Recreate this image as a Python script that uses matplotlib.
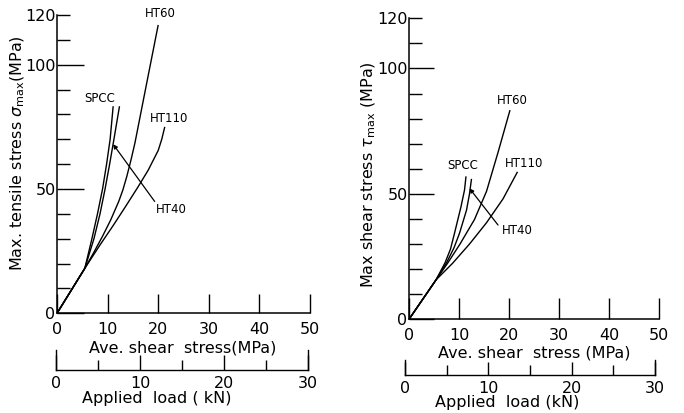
import matplotlib
matplotlib.use("Agg")
import matplotlib.pyplot as plt
from matplotlib.ticker import FixedLocator

plt.rcParams["font.family"] = ["DejaVu Sans"]
plt.rcParams["mathtext.fontset"] = "dejavusans"

# ---- tensile stress panel: (ave. shear stress MPa, max tensile stress MPa)
ten_spcc_x = [0, 5.5, 6.9, 8.0, 9.0, 9.8, 10.5, 11.1]
ten_spcc_y = [0, 18.1, 30.0, 40.0, 50.0, 60.0, 70.0, 83.3]
ten_ht40_x = [0, 5.5, 7.3, 8.5, 9.5, 10.4, 11.25, 12.35]
ten_ht40_y = [0, 18.1, 30.0, 40.0, 50.0, 60.0, 70.0, 83.3]
ten_ht60_x = [0, 5.5, 7.2, 9.0, 10.6, 12.2, 13.0, 13.8, 14.6, 15.4, 16.8, 18.3, 20.0]
ten_ht60_y = [0, 18.1, 24.2, 31.0, 37.5, 45.0, 49.5, 55.1, 61.5, 68.5, 83.0, 98.5, 116.0]
ten_ht110_x = [0, 5.5, 8.5, 11.0, 13.5, 16.0, 18.0, 20.0, 20.7, 21.3]
ten_ht110_y = [0, 18.1, 27.5, 35.0, 42.8, 50.8, 57.5, 65.5, 70.0, 75.0]

# ---- shear stress panel: (ave. shear stress MPa, max shear stress MPa)
sh_spcc_x = [0, 5.4, 7.2, 8.3, 9.1, 10.4, 11.1, 11.4]
sh_spcc_y = [0, 15.7, 22.5, 28.0, 34.3, 44.9, 51.5, 57.0]
sh_ht40_x = [0, 5.4, 7.5, 9.0, 10.1, 11.5, 12.1, 12.5]
sh_ht40_y = [0, 15.7, 22.5, 28.5, 34.3, 43.5, 50.0, 56.0]
sh_ht60_x = [0, 5.4, 7.7, 10.2, 13.1, 15.5, 17.8, 20.2]
sh_ht60_y = [0, 15.7, 22.3, 30.0, 39.8, 51.0, 66.5, 83.4]
sh_ht110_x = [0, 5.4, 8.7, 12.1, 15.5, 18.8, 21.7]
sh_ht110_y = [0, 15.7, 22.3, 30.0, 38.5, 48.0, 58.8]

stress_ticks = [0, 10, 20, 30, 40, 50]
load_major = [0, 10, 20, 30]
load_minor = [5, 15, 25]

LW = 1.0
PT = 0.72  # points per pixel at 100 dpi
fig = plt.figure(figsize=(6.84, 4.13), dpi=100)
W, H = 684.0, 413.0


def rect(x0, y0, x1, y1):
    return [x0 / W, (H - y0) / H, (x1 - x0) / W, (y0 - y1) / H]


def stress_axes(r, ylabel, ylab_xy, major_px, minor_px, xtick_px):
    ax = fig.add_axes(r)
    ax.set_xlim(0, 50)
    ax.set_ylim(0, 120)
    for s in ("top", "right"):
        ax.spines[s].set_visible(False)
    for s in ("left", "bottom"):
        ax.spines[s].set_linewidth(1.1)
    ax.xaxis.set_major_locator(FixedLocator(stress_ticks))
    ax.yaxis.set_major_locator(FixedLocator([0, 50, 100, 120]))
    ax.yaxis.set_minor_locator(FixedLocator([10, 20, 30, 40, 60, 70, 80, 90, 110]))
    ax.tick_params(axis="x", direction="in", length=xtick_px * PT, width=1.0,
                   labelsize=11.5, pad=6)
    ax.tick_params(axis="y", which="major", direction="in",
                   length=major_px * PT, width=1.0, labelsize=11.5, pad=1)
    ax.tick_params(axis="y", which="minor", direction="in",
                   length=minor_px * PT, width=1.0)
    ax.yaxis.get_major_ticks()[3].tick1line.set_markersize(minor_px * PT)
    fig.text(ylab_xy[0] / W, 1 - ylab_xy[1] / H, ylabel, rotation=90,
             ha="center", va="center", fontsize=11.5)
    return ax


def load_axes(r, major_px, minor_px):
    ax = fig.add_axes(r)
    ax.patch.set_alpha(0)
    ax.set_xlim(0, 30)
    ax.set_ylim(0, 1)
    ax.spines["top"].set_visible(False)
    for s in ("left", "right", "bottom"):
        ax.spines[s].set_linewidth(1.0)
    ax.set_yticks([])
    ax.xaxis.set_major_locator(FixedLocator(load_major))
    ax.xaxis.set_minor_locator(FixedLocator(load_minor))
    ax.tick_params(axis="x", which="major", direction="in",
                   length=major_px * PT, width=1.0, labelsize=11.5, pad=4)
    ax.tick_params(axis="x", which="minor", direction="in",
                   length=minor_px * PT, width=1.0)
    return ax


def draw_curves(ax, curves):
    for xs, ys in curves:
        ax.plot(xs, ys, color="black", lw=LW, solid_joinstyle="round",
                solid_capstyle="butt")


fs_lab = 8.5

# ---------------- left panel ----------------
axL = stress_axes(rect(57, 313.3, 310, 15),
                  r"Max. tensile stress $\sigma_{\rm max}$(MPa)",
                  (18, 153), 27, 13, 19)
draw_curves(axL, [(ten_spcc_x, ten_spcc_y), (ten_ht40_x, ten_ht40_y),
                  (ten_ht60_x, ten_ht60_y), (ten_ht110_x, ten_ht110_y)])
axL.text(20.5, 120.5, "HT60", ha="center", va="center", fontsize=fs_lab)
axL.text(8.4, 86.3, "SPCC", ha="center", va="center", fontsize=fs_lab)
axL.text(22.2, 78.3, "HT110", ha="center", va="center", fontsize=fs_lab)
axL.text(19.6, 41.9, "HT40", ha="left", va="center", fontsize=fs_lab)
axL.annotate("", xy=(11.1, 68.0), xytext=(19.3, 45),
             arrowprops=dict(arrowstyle="-|>", lw=0.9, color="black",
                             mutation_scale=6, shrinkA=0, shrinkB=0))
fig.text(183 / W, 1 - 348 / H, "Ave. shear  stress(MPa)", ha="center",
         va="center", fontsize=11.5)
load_axes(rect(56, 370, 308, 350), 15, 10)
fig.text(157 / W, 1 - 398 / H, "Applied  load ( kN)", ha="center",
         va="center", fontsize=11.5)

# ---------------- right panel ----------------
axR = stress_axes(rect(409, 319.3, 659, 18.3),
                  r"Max shear stress $\tau_{\rm max}$ (MPa)",
                  (369, 175), 25, 13, 21)
draw_curves(axR, [(sh_spcc_x, sh_spcc_y), (sh_ht40_x, sh_ht40_y),
                  (sh_ht60_x, sh_ht60_y), (sh_ht110_x, sh_ht110_y)])
axR.text(20.6, 87.4, "HT60", ha="center", va="center", fontsize=fs_lab)
axR.text(10.8, 61.5, "SPCC", ha="center", va="center", fontsize=fs_lab)
axR.text(23.0, 62.1, "HT110", ha="center", va="center", fontsize=fs_lab)
axR.text(18.5, 35.5, "HT40", ha="left", va="center", fontsize=fs_lab)
axR.annotate("", xy=(12.1, 52.2), xytext=(17.8, 37.6),
             arrowprops=dict(arrowstyle="-|>", lw=0.9, color="black",
                             mutation_scale=6, shrinkA=0, shrinkB=0))
fig.text(534 / W, 1 - 353 / H, "Ave. shear  stress (MPa)", ha="center",
         va="center", fontsize=11.5)
load_axes(rect(405, 375, 655, 360), 13, 10)
fig.text(507 / W, 1 - 403 / H, "Applied  load (kN)", ha="center",
         va="center", fontsize=11.5)

fig.savefig("out.png", dpi=100, facecolor="white")
